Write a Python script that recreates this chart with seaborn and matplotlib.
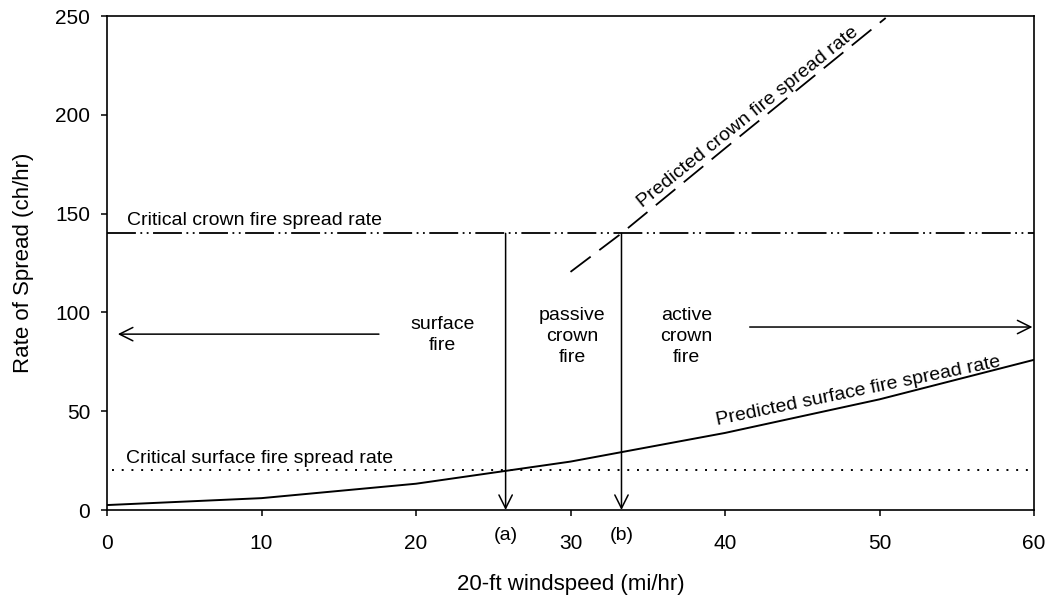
import matplotlib
matplotlib.use("Agg")
import matplotlib.pyplot as plt
import seaborn as sns
import pandas as pd

# Predicted surface fire rate of spread vs 20-ft windspeed
surface_ws = [0, 10, 20, 30, 40, 50, 60]
surface_ros = [2.5, 6, 13.3, 24.5, 39, 56, 76]

# Predicted crown fire rate of spread vs 20-ft windspeed
crown_ws = [30, 33.3, 40, 50.4]
crown_ros = [120.5, 140, 183, 249]

# Critical spread rates (ch/hr)
critical_surface = 20
critical_crown = 140

# Windspeeds of the fire-type transitions: (a) surface->passive, (b) passive->active
transition_ws = [25.8, 33.3]
transition_labels = ["(a)", "(b)"]

x_ticks = [0, 10, 20, 30, 40, 50, 60]
y_ticks = [0, 50, 100, 150, 200, 250]

sns.set_theme(style="ticks")
plt.rcParams["font.family"] = ["Liberation Sans", "DejaVu Sans"]

fig = plt.figure(figsize=(10.48, 6), dpi=100)
ax = fig.add_axes([107 / 1048, 1 - 510 / 600, 927 / 1048, 494 / 600])

surface_df = pd.DataFrame({"ws": surface_ws, "ros": surface_ros})
crown_df = pd.DataFrame({"ws": crown_ws, "ros": crown_ros})

sns.lineplot(data=surface_df, x="ws", y="ros", ax=ax, color="black", lw=1.4)
sns.lineplot(data=crown_df, x="ws", y="ros", ax=ax, color="black", lw=1.3,
             linestyle=(0, (14, 6)))

ax.axhline(critical_crown, xmin=0, xmax=1, color="black", lw=1.3,
           linestyle=(0, (16, 2.5, 1, 2.5, 1, 2.5)))
ax.axhline(critical_surface, xmin=0.005, xmax=1, color="black", lw=1.4,
           linestyle=(0, (1, 4)))

ax.set_xlim(0, 60)
ax.set_ylim(0, 250)
ax.set_xticks(x_ticks)
ax.set_yticks(y_ticks)

for sp in ax.spines.values():
    sp.set_visible(True)
    sp.set_color("black")
    sp.set_linewidth(1.2)

ax.tick_params(axis="both", direction="out", length=4, width=1.1,
               colors="black", labelsize=15)
ax.tick_params(axis="y", pad=8)
ax.tick_params(axis="x", pad=13)

ax.set_xlabel("20-ft windspeed (mi/hr)", fontsize=16, color="black")
ax.set_ylabel("Rate of Spread (ch/hr)", fontsize=16, color="black")
ax.xaxis.set_label_coords(0.5, -(574 - 510) / 494)
ax.yaxis.set_label_coords(-(73) / 927, 0.5)

txt = dict(fontsize=14, color="black")

# Line labels
ax.text(1.3, critical_crown + 2, "Critical crown fire spread rate", ha="left", va="bottom", **txt)
ax.text(1.2, critical_surface + 2, "Critical surface fire spread rate", ha="left", va="bottom", **txt)
ax.text(41.5, 198.5, "Predicted crown fire spread rate", rotation=38.8,
        ha="center", va="center", rotation_mode="anchor", **txt)
ax.text(48.6, 60.2, "Predicted surface fire spread rate", rotation=11.7,
        ha="center", va="center", rotation_mode="anchor", **txt)

# Fire-type regions
ax.text(21.7, 88.6, "surface\nfire", ha="center", va="center", linespacing=1.3, **txt)
ax.text(30.1, 87.7, "passive\ncrown\nfire", ha="center", va="center", linespacing=1.3, **txt)
ax.text(37.5, 87.7, "active\ncrown\nfire", ha="center", va="center", linespacing=1.3, **txt)

arrow = dict(arrowstyle="->", color="black", lw=1.1, mutation_scale=24,
             shrinkA=0, shrinkB=0)
ax.annotate("", xy=(0.7, 89), xytext=(17.6, 89), arrowprops=arrow)
ax.annotate("", xy=(59.9, 92.6), xytext=(41.6, 92.6), arrowprops=arrow)

# Transition arrows from the critical crown rate down to the axis
for ws, lab in zip(transition_ws, transition_labels):
    ax.annotate("", xy=(ws, 0), xytext=(ws, critical_crown), arrowprops=arrow)
    ax.annotate(lab, xy=(ws, 0), xycoords=("data", "axes fraction"),
                xytext=(0, -12), textcoords="offset points",
                ha="center", va="top", annotation_clip=False, **txt)

fig.savefig("out.png", dpi=100, facecolor="white")
